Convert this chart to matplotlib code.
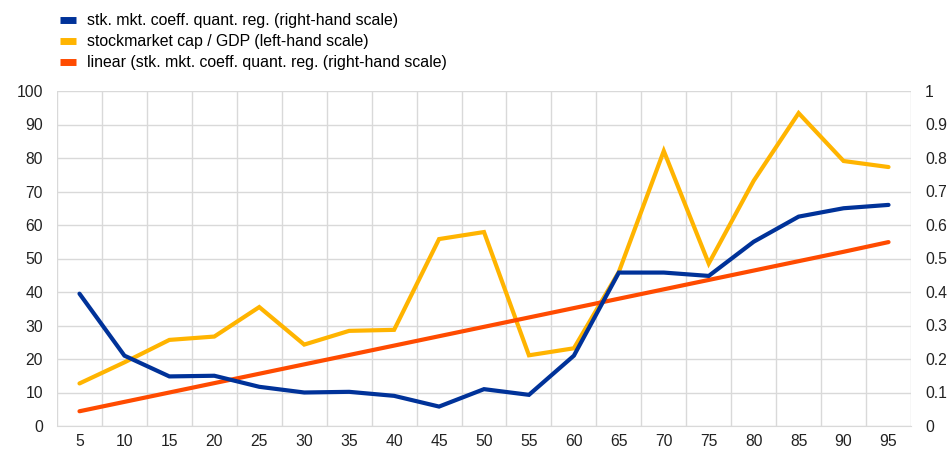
import matplotlib
matplotlib.use("Agg")
import matplotlib.pyplot as plt
import numpy as np

categories = [5, 10, 15, 20, 25, 30, 35, 40, 45, 50, 55, 60, 65, 70, 75, 80, 85, 90, 95]
stk_coeff = [0.395, 0.21, 0.148, 0.15, 0.117, 0.100, 0.102, 0.090, 0.058, 0.110,
             0.093, 0.210, 0.458, 0.458, 0.448, 0.550, 0.625, 0.650, 0.660]
mktcap_gdp = [12.7, 19.0, 25.7, 26.7, 35.5, 24.3, 28.4, 28.7, 55.8, 57.9,
              21.1, 23.2, 46.0, 82.1, 48.5, 73.2, 93.4, 79.1, 77.3]
linear_trend = [0.044, 0.072, 0.100, 0.128, 0.156, 0.184, 0.212, 0.240, 0.268, 0.296,
                0.324, 0.352, 0.380, 0.408, 0.436, 0.464, 0.492, 0.520, 0.549]
labels = ["stk. mkt. coeff. quant. reg. (right-hand scale)",
          "stockmarket cap / GDP (left-hand scale)",
          "linear (stk. mkt. coeff. quant. reg. (right-hand scale)"]

plt.rcParams['font.family'] = ['Liberation Sans', 'DejaVu Sans']
BLUE = "#003299"
YELLOW = "#FFB400"
ORANGE = "#FF4B00"
GRID = "#d9d9d9"
FS = 11.3

fig = plt.figure(figsize=(9.49, 4.54), dpi=100)
ax = fig.add_axes([57/949, 1-426/454, (911-57)/949, (426-91)/454])
ax2 = ax.twinx()

x = np.arange(len(categories))
l2, = ax.plot(x, mktcap_gdp, color=YELLOW, lw=3, solid_capstyle='round', solid_joinstyle='miter', zorder=3)
l1, = ax2.plot(x, stk_coeff, color=BLUE, lw=3, solid_capstyle='round', solid_joinstyle='miter', zorder=4)
l3, = ax2.plot(x, linear_trend, color=ORANGE, lw=3, solid_capstyle='round', zorder=3)

ax.set_xlim(-0.5, len(categories) - 0.5)
ax.set_ylim(0, 100)
ax2.set_ylim(0, 1)
ax.set_yticks(np.arange(0, 101, 10))
ax2.set_yticks(np.arange(0, 1.01, 0.1))
ax2.set_yticklabels(["0", "0.1", "0.2", "0.3", "0.4", "0.5", "0.6", "0.7", "0.8", "0.9", "1"])
ax.set_xticks(x)
ax.set_xticklabels([str(c) for c in categories])
ax.set_xticks(np.arange(-0.5, len(categories), 1), minor=True)

ax.grid(True, axis='y', which='major', color=GRID, lw=1)
ax.grid(True, axis='x', which='minor', color=GRID, lw=1)
ax.grid(False, axis='x', which='major')
ax.set_axisbelow(True)

for a in (ax, ax2):
    for s in a.spines.values():
        s.set_visible(False)
ax.spines['bottom'].set_visible(True)
ax.spines['bottom'].set_color(GRID)

ax.tick_params(axis='both', which='both', length=0, labelsize=FS, colors='#222222')
ax.tick_params(axis='y', pad=10)
ax.tick_params(axis='x', pad=6)
ax2.tick_params(axis='y', length=0, labelsize=FS, colors='#222222', pad=10)

ax2.set_zorder(ax.get_zorder() + 1)
ax2.patch.set_visible(False)

leg = fig.legend([l1, l2, l3], labels, loc='upper left', bbox_to_anchor=(54/949, 1 - 7/454),
                 frameon=False, fontsize=11.4, handlelength=1.0, handleheight=0.6,
                 handletextpad=0.7, labelspacing=0.38, borderaxespad=0)
for h in leg.get_lines():
    h.set_linewidth(5)
    h.set_solid_capstyle('butt')

fig.savefig("out.png", dpi=100)
